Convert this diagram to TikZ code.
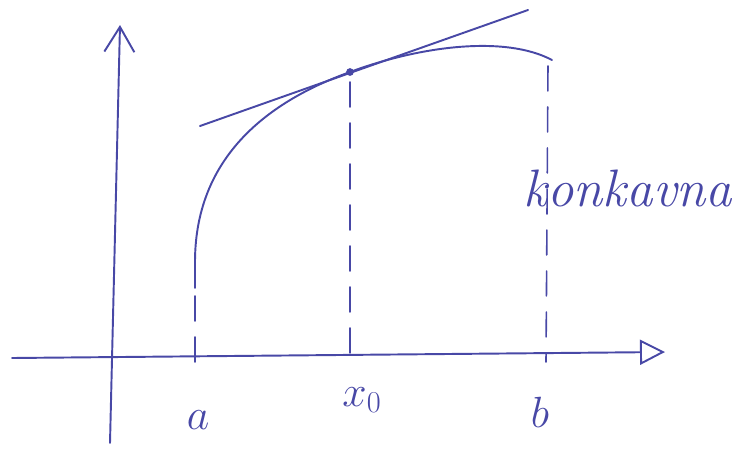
\documentclass[tikz,border=0pt]{standalone}
\usepackage{tikz}
\usetikzlibrary{arrows.meta}
\definecolor{ink}{HTML}{4848A6}
\tikzset{
  stroke/.style = {draw=ink, line width=1.1pt, line cap=round, line join=round},
  axs/.style    = {stroke},
  guide/.style  = {stroke, line width=0.9pt, dash pattern=on 5mm off 3.2mm},
  lbl/.style    = {text=ink, inner sep=0pt},
}

\begin{document}
\begin{tikzpicture}[x=0.02cm, y=-0.02cm]
  \useasboundingbox (0,0) rectangle (748,461);

  % axes
  \coordinate (xs) at (12,358);
  \coordinate (xe) at (665,352);
  \coordinate (ys) at (110,443);
  \coordinate (ye) at (120,25);
  \draw[axs, -{Triangle[open, length=5mm, width=5mm, line width=1.1pt]}] (xs) -- (xe);
  \draw[axs, -{Straight Barb[length=5mm, width=6mm, line width=1.1pt]}] (ys) -- (ye);

  % concave curve and tangent
  \coordinate (ca) at (195,288);
  \coordinate (p0) at (350,72);
  \coordinate (cb) at (552,60);
  \draw[stroke] (ca) -- (195,262) .. controls (195,150) and (278,98) .. (p0)
        .. controls (420,46) and (505,35) .. (cb);
  \coordinate (ts) at (200,126);
  \coordinate (te) at (528,10);
  \draw[stroke] (ts) -- (te);
  \fill[ink] (p0) circle (2.2pt);

  % dashed guides
  \coordinate (ga) at (195,372);
  \coordinate (g0) at (350,355);
  \coordinate (gb) at (546,362);
  \draw[guide] (195,296) -- (ga);
  \draw[guide] (350,82) -- (g0);
  \draw[guide] (548,66) -- (gb);

  % labels
  \node[lbl, font=\fontsize{30}{34}\selectfont] (la) at (198,420) {$a$};
  \node[lbl, font=\fontsize{26}{30}\selectfont] (lx) at (362,400) {$x_0$};
  \node[lbl, font=\fontsize{30}{34}\selectfont] (lb) at (540,412) {$b$};
  \node[lbl, font=\fontsize{30}{34}\selectfont\itshape] (kon) at (628,188) {konkavna};
\end{tikzpicture}
\end{document}
